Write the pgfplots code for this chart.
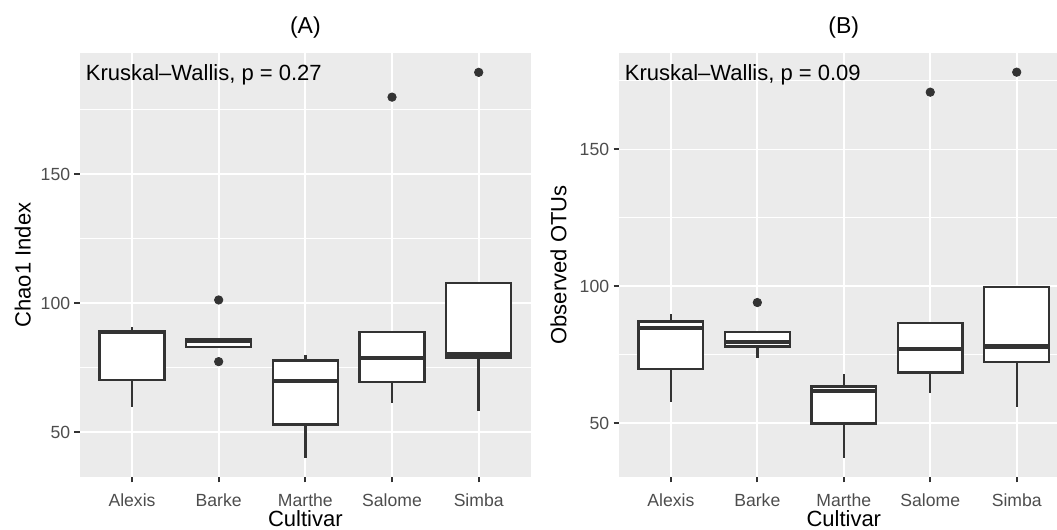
\documentclass[border=0pt]{standalone}
\usepackage{pgfplots}
\pgfplotsset{compat=1.18}
\usepgfplotslibrary{statistics}
\usepackage{fontspec}
\setmainfont{Liberation Sans}
\definecolor{ggbg}{HTML}{EBEBEB}
\definecolor{ggtick}{HTML}{333333}
\definecolor{gglab}{HTML}{4D4D4D}
\definecolor{ggbox}{HTML}{333333}
\pgfplotsset{
  ggstyle/.style={
    scale only axis,
    height=212pt,
    axis background/.style={fill=ggbg},
    axis line style={draw=none},
    xmin=0.4,
    xtick={1,2,3,4,5},
    xticklabels={Alexis,Barke,Marthe,Salome,Simba},
    ytick={50,100,150},
    yticklabels={50,100,150},
    minor ytick={75,125,175},
    xmajorgrids, ymajorgrids, yminorgrids,
    major grid style={white, line width=0.9pt},
    minor grid style={white, line width=0.5pt},
    tick align=outside,
    tick pos=left,
    major tick length=2.75pt,
    minor tick length=0pt,
    every tick/.style={ggtick, line width=1pt},
    tick label style={font=\fontsize{8.8}{10}\selectfont, text=gglab, inner sep=0pt},
    xticklabel style={anchor=base, yshift=-11.85pt},
    yticklabel style={anchor=east, xshift=-2pt},
    every axis title/.style={at={(axis description cs:0.5,1)}, anchor=base, yshift=9.75pt, font=\fontsize{11.5}{13}\selectfont},
    every axis x label/.style={at={(axis description cs:0.5,0)}, anchor=base, yshift=-25pt, font=\fontsize{11}{13}\selectfont},
    boxplot/draw direction=y,
    boxplot/box extend=0.75,
    boxplot/whisker extend=0,
    boxplot/every box/.style={draw=ggbox, fill=white, line width=1.2pt},
    boxplot/every whisker/.style={draw=ggbox, line width=1.2pt},
    boxplot/every median/.style={draw=ggbox, line width=2.2pt},
  },
  outl/.style={only marks, mark=*, mark size=2.1pt, color=ggbox, mark options={fill=ggbox, draw=ggbox}},
}
\begin{document}
\begin{tikzpicture}
\path[use as bounding box] (0,0) rectangle (528.5pt,265pt);
% Panel A
\begin{axis}[ggstyle,
  at={(40pt,26.5pt)}, anchor=south west,
  width=225.35pt,
  xmax=5.6, ymin=32.7, ymax=197,
  title={(A)},
  xlabel={Cultivar},
  every axis y label/.style={at={([xshift=-24.7pt]axis description cs:0,0.5)}, rotate=90, anchor=base, font=\fontsize{11}{13}\selectfont},
  ylabel={Chao1 Index},
]
\addplot[boxplot prepared={draw position=1, lower whisker=59.9, lower quartile=70.3, median=89.0, upper quartile=89.3, upper whisker=91.0}] coordinates {};
\addplot[boxplot prepared={draw position=2, lower whisker=83.1, lower quartile=83.1, median=85.5, upper quartile=86.0, upper whisker=86.0}] coordinates {};
\addplot[boxplot prepared={draw position=3, lower whisker=40.2, lower quartile=53.0, median=70.0, upper quartile=77.8, upper whisker=79.8}] coordinates {};
\addplot[boxplot prepared={draw position=4, lower whisker=61.5, lower quartile=69.5, median=78.7, upper quartile=88.8, upper whisker=88.8}] coordinates {};
\addplot[boxplot prepared={draw position=5, lower whisker=58.3, lower quartile=79.0, median=80.2, upper quartile=107.8, upper whisker=107.8}] coordinates {};
\addplot[outl] coordinates {(2,101.3) (2,77.4) (4,179.9) (5,189.5)};
\node[anchor=base west, inner sep=0pt, font=\fontsize{11}{13}\selectfont] at ([xshift=2.75pt,yshift=-13.75pt]axis description cs:0,1) {Kruskal–Wallis, p = 0.27};
\end{axis}
% Panel B
\begin{axis}[ggstyle,
  at={(309.5pt,26.5pt)}, anchor=south west,
  width=219pt,
  xmax=5.466, ymin=30.4, ymax=185.2,
  title={(B)},
  title style={xshift=2.9pt},
  xlabel={Cultivar},
  xlabel style={xshift=2.9pt},
  every axis y label/.style={at={([xshift=-26.3pt]axis description cs:0,0.5)}, rotate=90, anchor=base, font=\fontsize{11}{13}\selectfont},
  ylabel={Observed OTUs},
]
\addplot[boxplot prepared={draw position=1, lower whisker=57.6, lower quartile=69.9, median=84.8, upper quartile=87.2, upper whisker=89.9}] coordinates {};
\addplot[boxplot prepared={draw position=2, lower whisker=73.8, lower quartile=78.0, median=79.6, upper quartile=83.4, upper whisker=83.4}] coordinates {};
\addplot[boxplot prepared={draw position=3, lower whisker=37.4, lower quartile=50.0, median=61.7, upper quartile=63.4, upper whisker=68.0}] coordinates {};
\addplot[boxplot prepared={draw position=4, lower whisker=60.9, lower quartile=68.5, median=77.1, upper quartile=86.6, upper whisker=86.6}] coordinates {};
\addplot[boxplot prepared={draw position=5, lower whisker=55.9, lower quartile=72.4, median=78.0, upper quartile=99.8, upper whisker=99.8}] coordinates {};
\addplot[outl] coordinates {(2,94.1) (4,170.9) (5,178.2)};
\node[anchor=base west, inner sep=0pt, font=\fontsize{11}{13}\selectfont] at ([xshift=2.75pt,yshift=-13.75pt]axis description cs:0,1) {Kruskal–Wallis, p = 0.09};
\end{axis}
\end{tikzpicture}
\end{document}
